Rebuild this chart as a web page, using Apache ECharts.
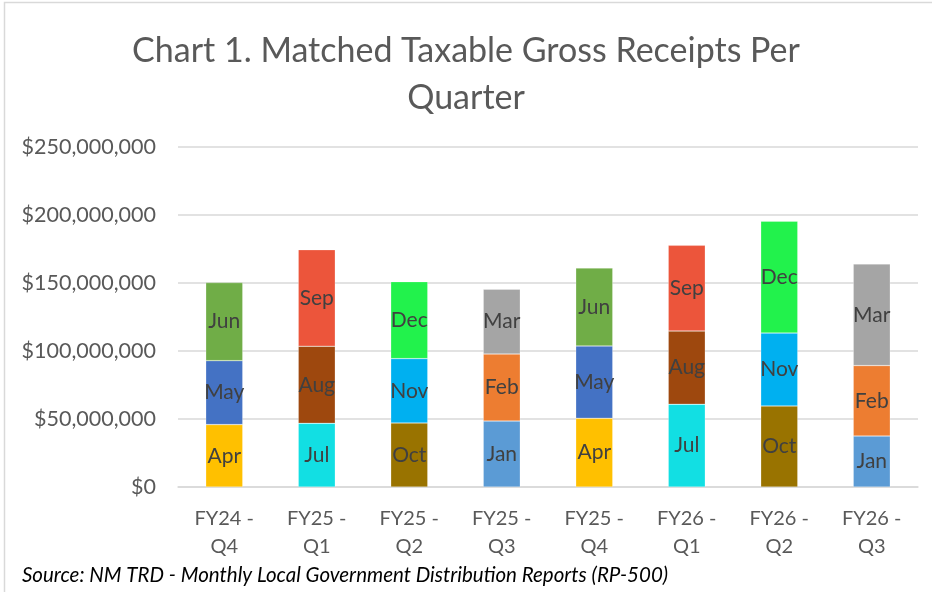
<!DOCTYPE html>
<html lang="en">
<head>
    <meta charset="UTF-8">
    <title>Matched Taxable Gross Receipts Per Quarter</title>
    <style>
        html, body { margin: 0; padding: 0; background: #fff; }
    </style>
</head>
<body>
    <div id="chart" style="width: 932px;height: 592px"></div>

    <script src="https://cdn.jsdelivr.net/npm/echarts@6/dist/echarts.min.js"></script>
    <script>
        // quarters on the x axis
        var categories = ['FY24 -\nQ4', 'FY25 -\nQ1', 'FY25 -\nQ2', 'FY25 -\nQ3', 'FY25 -\nQ4', 'FY26 -\nQ1', 'FY26 -\nQ2', 'FY26 -\nQ3'];

        // month names for the 1st / 2nd / 3rd month of each quarter
        var firstMonthNames  = ['Apr', 'Jul', 'Oct', 'Jan', 'Apr', 'Jul', 'Oct', 'Jan'];
        var secondMonthNames = ['May', 'Aug', 'Nov', 'Feb', 'May', 'Aug', 'Nov', 'Feb'];
        var thirdMonthNames  = ['Jun', 'Sep', 'Dec', 'Mar', 'Jun', 'Sep', 'Dec', 'Mar'];

        // receipts in millions of dollars
        var firstMonthValues  = [45.9, 46.8, 47.1, 48.5, 50.5, 60.8, 59.6, 37.5];
        var secondMonthValues = [47.0, 56.7, 47.3, 49.3, 53.2, 53.9, 53.6, 51.8];
        var thirdMonthValues  = [57.4, 71.0, 56.6, 47.6, 57.3, 63.0, 82.2, 74.7];

        var yTicks = [0, 50000000, 100000000, 150000000, 200000000, 250000000];

        var monthColors = {
            Jan: '#5b9bd5', Feb: '#ed7d31', Mar: '#a5a5a5',
            Apr: '#ffc000', May: '#4472c4', Jun: '#70ad47',
            Jul: '#12dfe3', Aug: '#9e480e', Sep: '#ec553b',
            Oct: '#997300', Nov: '#00b0f0', Dec: '#22f24c'
        };

        var font = 'Lato, "Open Sans", sans-serif';

        function buildSeries(name, values, names) {
            return {
                name: name,
                type: 'bar',
                stack: 'quarter',
                barWidth: '40%',
                data: values.map(function (v, i) {
                    return {
                        value: v * 1000000,
                        itemStyle: { color: monthColors[names[i]] }
                    };
                }),
                itemStyle: { borderColor: 'rgba(255,255,255,0.5)', borderWidth: 0.5 },
                label: {
                    show: true,
                    position: 'inside',
                    formatter: function (p) { return names[p.dataIndex]; },
                    color: '#404040',
                    fontFamily: font,
                    fontSize: 21
                }
            };
        }

        var myChart = echarts.init(document.getElementById('chart'));

        myChart.setOption({
            animation: false,
            title: {
                text: 'Chart 1. Matched Taxable Gross Receipts Per\nQuarter',
                left: 'center',
                top: 23,
                textStyle: {
                    fontFamily: font,
                    fontWeight: 'normal',
                    fontSize: 34,
                    lineHeight: 47,
                    color: '#595959'
                }
            },
            grid: {
                left: 178,
                right: 14,
                top: 147,
                bottom: 105
            },
            xAxis: {
                type: 'category',
                data: categories,
                axisTick: { show: false },
                axisLine: { lineStyle: { color: '#d9d9d9', width: 1.5 } },
                axisLabel: {
                    margin: 18,
                    fontFamily: font,
                    fontSize: 20,
                    lineHeight: 28,
                    color: '#595959'
                }
            },
            yAxis: {
                type: 'value',
                min: yTicks[0],
                max: yTicks[yTicks.length - 1],
                interval: yTicks[1] - yTicks[0],
                axisLine: { show: false },
                axisTick: { show: false },
                splitLine: { lineStyle: { color: '#d9d9d9', width: 1.5 } },
                axisLabel: {
                    margin: 22,
                    fontFamily: font,
                    fontSize: 21.5,
                    color: '#595959',
                    formatter: function (v) { return '$' + v.toLocaleString('en-US'); }
                }
            },
            graphic: [
                {
                    type: 'rect',
                    shape: { x: 4.5, y: 2.5, width: 1000, height: 1000 },
                    style: { fill: 'none', stroke: '#d9d9d9', lineWidth: 1.5 },
                    silent: true
                },
                {
                    type: 'text',
                    left: 22,
                    top: 565,
                    style: {
                        text: 'Source: NM TRD - Monthly Local Government Distribution Reports (RP-500)',
                        fontFamily: font,
                        fontStyle: 'italic',
                        fontSize: 20.5,
                        fill: '#000000'
                    }
                }
            ],
            series: [
                buildSeries('Month 1', firstMonthValues, firstMonthNames),
                buildSeries('Month 2', secondMonthValues, secondMonthNames),
                buildSeries('Month 3', thirdMonthValues, thirdMonthNames)
            ]
        });
    </script>
</body>
</html>
